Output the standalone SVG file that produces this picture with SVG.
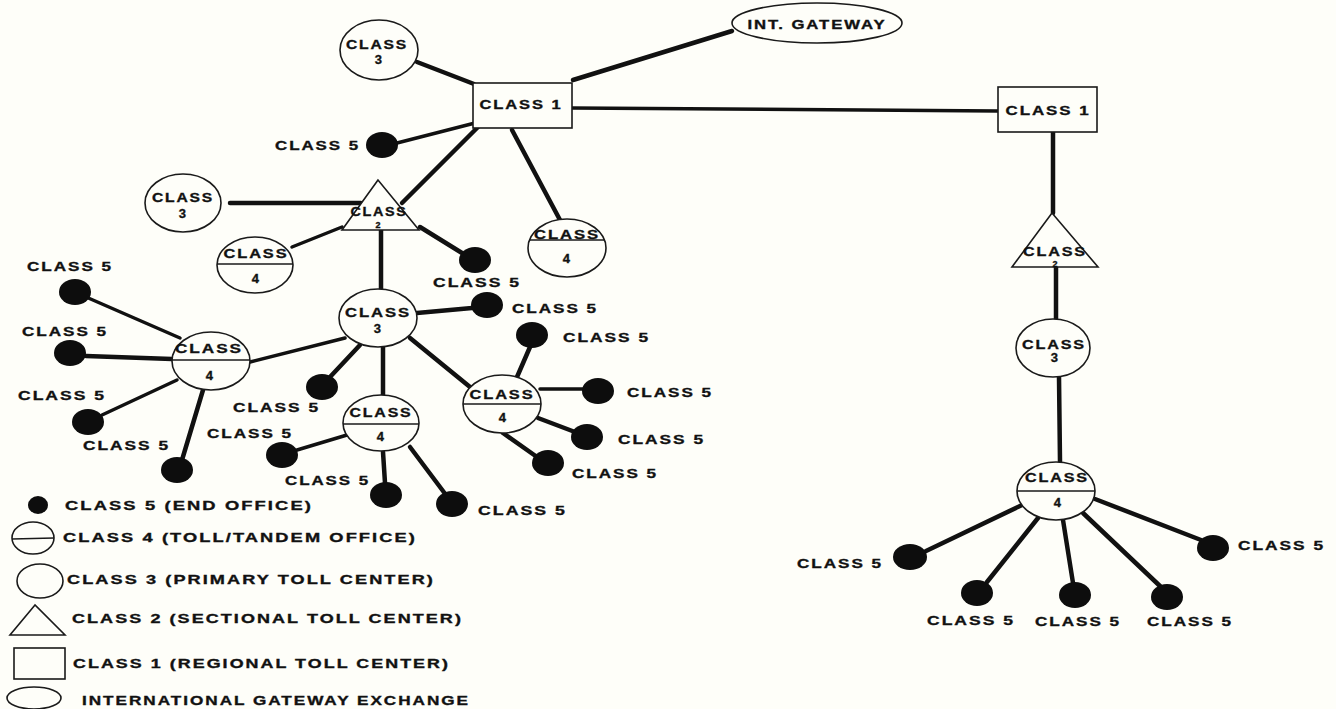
<svg xmlns="http://www.w3.org/2000/svg" width="1336" height="709" viewBox="0 0 1336 709">
<style>
.bg{fill:#fefef9}
.nd{fill:#fefef9;stroke:#1a1a1a;stroke-width:1.6}
.dv{stroke:#1a1a1a;stroke-width:1.4}
.eo{fill:#0d0d0d}
.t{font-family:"Liberation Sans",Arial,sans-serif;font-weight:bold;font-size:13px;letter-spacing:1.5px;fill:#111;stroke:#111;stroke-width:0.35;dominant-baseline:central}
.s{font-size:9px;letter-spacing:0}
.m{text-anchor:middle}
#connectors line{stroke:#111;stroke-width:4.5;stroke-linecap:round}
#connectors line.th{stroke-width:3.5}
</style>
<rect class="bg" x="0" y="0" width="1336" height="709"/>

<g id="connectors">
<line x1="417" y1="62" x2="474" y2="84"/>
<line x1="573" y1="80" x2="732" y2="31"/>
<line class="th" x1="572" y1="108" x2="998" y2="111"/>
<line class="th" x1="397" y1="143" x2="475" y2="123"/>
<line x1="478" y1="127" x2="402" y2="203"/>
<line x1="512" y1="130" x2="560" y2="220"/>
<line x1="230" y1="203" x2="361" y2="203"/>
<line class="th" x1="342" y1="227" x2="292" y2="247"/>
<line x1="420" y1="227" x2="462" y2="253"/>
<line x1="381" y1="221" x2="381" y2="290"/>
<line class="th" x1="345" y1="338" x2="250" y2="362"/>
<line x1="417" y1="313" x2="472" y2="308"/>
<line x1="360" y1="345" x2="330" y2="377"/>
<line x1="383" y1="347" x2="383" y2="395"/>
<line x1="410" y1="338" x2="470" y2="387"/>
<line class="th" x1="86" y1="297" x2="180" y2="338"/>
<line x1="86" y1="356" x2="172" y2="359"/>
<line class="th" x1="102" y1="415" x2="177" y2="380"/>
<line x1="182" y1="460" x2="203" y2="390"/>
<line class="th" x1="297" y1="450" x2="347" y2="435"/>
<line x1="383" y1="452" x2="385" y2="483"/>
<line x1="410" y1="447" x2="446" y2="495"/>
<line x1="530" y1="347" x2="517" y2="377"/>
<line class="th" x1="540" y1="389" x2="583" y2="389"/>
<line x1="538" y1="418" x2="575" y2="432"/>
<line x1="503" y1="433" x2="537" y2="457"/>
<line x1="1053" y1="132" x2="1053" y2="213"/>
<line x1="1056" y1="259" x2="1056" y2="319"/>
<line x1="1059" y1="377" x2="1060" y2="462"/>
<line x1="1022" y1="505" x2="926" y2="551"/>
<line x1="1038" y1="518" x2="987" y2="582"/>
<line x1="1063" y1="520" x2="1073" y2="583"/>
<line x1="1083" y1="513" x2="1161" y2="587"/>
<line x1="1095" y1="499" x2="1201" y2="540"/>
</g>

<g id="class1-main">
<rect class="nd" x="473" y="83" width="99" height="45"/>
<text class="t m" x="521" y="104" textLength="83" lengthAdjust="spacingAndGlyphs">CLASS 1</text>
</g>
<g id="class1-right">
<rect class="nd" x="998" y="87" width="99" height="45"/>
<text class="t m" x="1048" y="110" textLength="85" lengthAdjust="spacingAndGlyphs">CLASS 1</text>
</g>
<g id="int-gateway">
<ellipse class="nd" cx="817" cy="23" rx="85" ry="20"/>
<text class="t m" x="817" y="24" textLength="139" lengthAdjust="spacingAndGlyphs">INT. GATEWAY</text>
</g>

<g id="class3-top">
<ellipse class="nd" cx="379" cy="50" rx="39" ry="30"/>
<text class="t m" x="377" y="44" textLength="62" lengthAdjust="spacingAndGlyphs">CLASS</text>
<text class="t m" x="379" y="59">3</text>
</g>
<g id="class3-left">
<ellipse class="nd" cx="183" cy="203" rx="38" ry="29"/>
<text class="t m" x="183" y="197" textLength="62" lengthAdjust="spacingAndGlyphs">CLASS</text>
<text class="t m" x="183" y="213">3</text>
</g>
<g id="class3-center">
<ellipse class="nd" cx="378" cy="318" rx="39" ry="29"/>
<text class="t m" x="378" y="312" textLength="66" lengthAdjust="spacingAndGlyphs">CLASS</text>
<text class="t m" x="378" y="328">3</text>
</g>
<g id="class3-right">
<ellipse class="nd" cx="1053" cy="348" rx="37" ry="29"/>
<text class="t m" x="1054" y="344" textLength="64" lengthAdjust="spacingAndGlyphs">CLASS</text>
<text class="t m" x="1055" y="357">3</text>
</g>

<g id="class2-left">
<polygon class="nd" points="378,180 342,230 419,230"/>
<text class="t s m" x="378" y="225">2</text>
<text class="t m" x="379" y="211" textLength="57" lengthAdjust="spacingAndGlyphs">CLASS</text>
</g>
<g id="class2-right">
<polygon class="nd" points="1052,213 1012,267 1098,267"/>
<text class="t s m" x="1055" y="264">2</text>
<text class="t m" x="1055" y="251" textLength="64" lengthAdjust="spacingAndGlyphs">CLASS</text>
</g>

<g id="class4-a">
<ellipse class="nd" cx="567" cy="248" rx="39" ry="29"/>
<line class="dv" x1="529" y1="240" x2="605" y2="240"/>
<text class="t m" x="567" y="234" textLength="66" lengthAdjust="spacingAndGlyphs">CLASS</text>
<text class="t m" x="567" y="258">4</text>
</g>
<g id="class4-b">
<ellipse class="nd" cx="255" cy="265" rx="38" ry="28"/>
<line class="dv" x1="217" y1="264" x2="293" y2="264"/>
<text class="t m" x="256" y="253" textLength="65" lengthAdjust="spacingAndGlyphs">CLASS</text>
<text class="t m" x="256" y="278">4</text>
</g>
<g id="class4-c">
<ellipse class="nd" cx="211" cy="361" rx="39" ry="29"/>
<line class="dv" x1="172" y1="360" x2="250" y2="360"/>
<text class="t m" x="209" y="348" textLength="68" lengthAdjust="spacingAndGlyphs">CLASS</text>
<text class="t m" x="210" y="375">4</text>
</g>
<g id="class4-d">
<ellipse class="nd" cx="381" cy="423" rx="38" ry="28"/>
<line class="dv" x1="343" y1="424" x2="419" y2="424"/>
<text class="t m" x="381" y="412" textLength="63" lengthAdjust="spacingAndGlyphs">CLASS</text>
<text class="t m" x="381" y="436">4</text>
</g>
<g id="class4-e">
<ellipse class="nd" cx="502" cy="404" rx="39" ry="29"/>
<line class="dv" x1="463" y1="404" x2="541" y2="404"/>
<text class="t m" x="502" y="394" textLength="65" lengthAdjust="spacingAndGlyphs">CLASS</text>
<text class="t m" x="503" y="417">4</text>
</g>
<g id="class4-f">
<ellipse class="nd" cx="1056" cy="491" rx="39" ry="29"/>
<line class="dv" x1="1017" y1="491" x2="1095" y2="491"/>
<text class="t m" x="1057" y="477" textLength="64" lengthAdjust="spacingAndGlyphs">CLASS</text>
<text class="t m" x="1058" y="502">4</text>
</g>

<g id="class5-01"><ellipse class="eo" cx="382" cy="145" rx="16" ry="13"/><text class="t" x="275" y="145" textLength="85" lengthAdjust="spacingAndGlyphs">CLASS 5</text></g>
<g id="class5-02"><ellipse class="eo" cx="475" cy="260" rx="16" ry="13"/><text class="t" x="433" y="282" textLength="88" lengthAdjust="spacingAndGlyphs">CLASS 5</text></g>
<g id="class5-03"><ellipse class="eo" cx="487" cy="305" rx="16" ry="13"/><text class="t" x="512" y="308" textLength="86" lengthAdjust="spacingAndGlyphs">CLASS 5</text></g>
<g id="class5-04"><ellipse class="eo" cx="532" cy="335" rx="16" ry="13"/><text class="t" x="563" y="337" textLength="87" lengthAdjust="spacingAndGlyphs">CLASS 5</text></g>
<g id="class5-05"><ellipse class="eo" cx="598" cy="391" rx="16" ry="13"/><text class="t" x="627" y="392" textLength="86" lengthAdjust="spacingAndGlyphs">CLASS 5</text></g>
<g id="class5-06"><ellipse class="eo" cx="587" cy="437" rx="16" ry="13"/><text class="t" x="618" y="439" textLength="87" lengthAdjust="spacingAndGlyphs">CLASS 5</text></g>
<g id="class5-07"><ellipse class="eo" cx="548" cy="463" rx="16" ry="13"/><text class="t" x="572" y="473" textLength="86" lengthAdjust="spacingAndGlyphs">CLASS 5</text></g>
<g id="class5-08"><ellipse class="eo" cx="452" cy="504" rx="16" ry="13"/><text class="t" x="478" y="510" textLength="89" lengthAdjust="spacingAndGlyphs">CLASS 5</text></g>
<g id="class5-09"><ellipse class="eo" cx="386" cy="495" rx="16" ry="13"/><text class="t" x="285" y="480" textLength="85" lengthAdjust="spacingAndGlyphs">CLASS 5</text></g>
<g id="class5-10"><ellipse class="eo" cx="282" cy="455" rx="16" ry="13"/><text class="t" x="207" y="433" textLength="86" lengthAdjust="spacingAndGlyphs">CLASS 5</text></g>
<g id="class5-11"><ellipse class="eo" cx="322" cy="387" rx="16" ry="13"/><text class="t" x="233" y="407" textLength="87" lengthAdjust="spacingAndGlyphs">CLASS 5</text></g>
<g id="class5-12"><ellipse class="eo" cx="75" cy="292" rx="16" ry="13"/><text class="t" x="27" y="266" textLength="86" lengthAdjust="spacingAndGlyphs">CLASS 5</text></g>
<g id="class5-13"><ellipse class="eo" cx="70" cy="353" rx="16" ry="13"/><text class="t" x="22" y="331" textLength="86" lengthAdjust="spacingAndGlyphs">CLASS 5</text></g>
<g id="class5-14"><ellipse class="eo" cx="88" cy="422" rx="16" ry="13"/><text class="t" x="18" y="395" textLength="88" lengthAdjust="spacingAndGlyphs">CLASS 5</text></g>
<g id="class5-15"><ellipse class="eo" cx="177" cy="470" rx="16" ry="13"/><text class="t" x="83" y="445" textLength="87" lengthAdjust="spacingAndGlyphs">CLASS 5</text></g>
<g id="class5-16"><ellipse class="eo" cx="910" cy="557" rx="17" ry="13"/><text class="t" x="797" y="563" textLength="86" lengthAdjust="spacingAndGlyphs">CLASS 5</text></g>
<g id="class5-17"><ellipse class="eo" cx="977" cy="593" rx="16" ry="13"/><text class="t" x="927" y="620" textLength="88" lengthAdjust="spacingAndGlyphs">CLASS 5</text></g>
<g id="class5-18"><ellipse class="eo" cx="1075" cy="595" rx="16" ry="13"/><text class="t" x="1035" y="621" textLength="86" lengthAdjust="spacingAndGlyphs">CLASS 5</text></g>
<g id="class5-19"><ellipse class="eo" cx="1167" cy="597" rx="16" ry="13"/><text class="t" x="1147" y="621" textLength="86" lengthAdjust="spacingAndGlyphs">CLASS 5</text></g>
<g id="class5-20"><ellipse class="eo" cx="1213" cy="548" rx="16" ry="13"/><text class="t" x="1238" y="545" textLength="87" lengthAdjust="spacingAndGlyphs">CLASS 5</text></g>

<g id="legend">
<ellipse class="eo" cx="38" cy="505" rx="10" ry="9"/>
<text class="t" x="65" y="505" textLength="248" lengthAdjust="spacingAndGlyphs">CLASS 5 (END OFFICE)</text>
<ellipse class="nd" cx="33" cy="538" rx="21" ry="16"/>
<line class="dv" x1="12" y1="539" x2="54" y2="538"/>
<text class="t" x="63" y="537" textLength="354" lengthAdjust="spacingAndGlyphs">CLASS 4 (TOLL/TANDEM OFFICE)</text>
<ellipse class="nd" cx="40" cy="581" rx="23" ry="17"/>
<text class="t" x="67" y="579" textLength="368" lengthAdjust="spacingAndGlyphs">CLASS 3 (PRIMARY TOLL CENTER)</text>
<polygon class="nd" points="35,605 10,635 65,635"/>
<text class="t" x="72" y="618" textLength="391" lengthAdjust="spacingAndGlyphs">CLASS 2 (SECTIONAL TOLL CENTER)</text>
<rect class="nd" x="14" y="648" width="51" height="31"/>
<text class="t" x="73" y="663" textLength="377" lengthAdjust="spacingAndGlyphs">CLASS 1 (REGIONAL TOLL CENTER)</text>
<ellipse class="nd" cx="34" cy="698" rx="27" ry="11"/>
<text class="t" x="82" y="700" textLength="388" lengthAdjust="spacingAndGlyphs">INTERNATIONAL GATEWAY EXCHANGE</text>
</g>
</svg>
